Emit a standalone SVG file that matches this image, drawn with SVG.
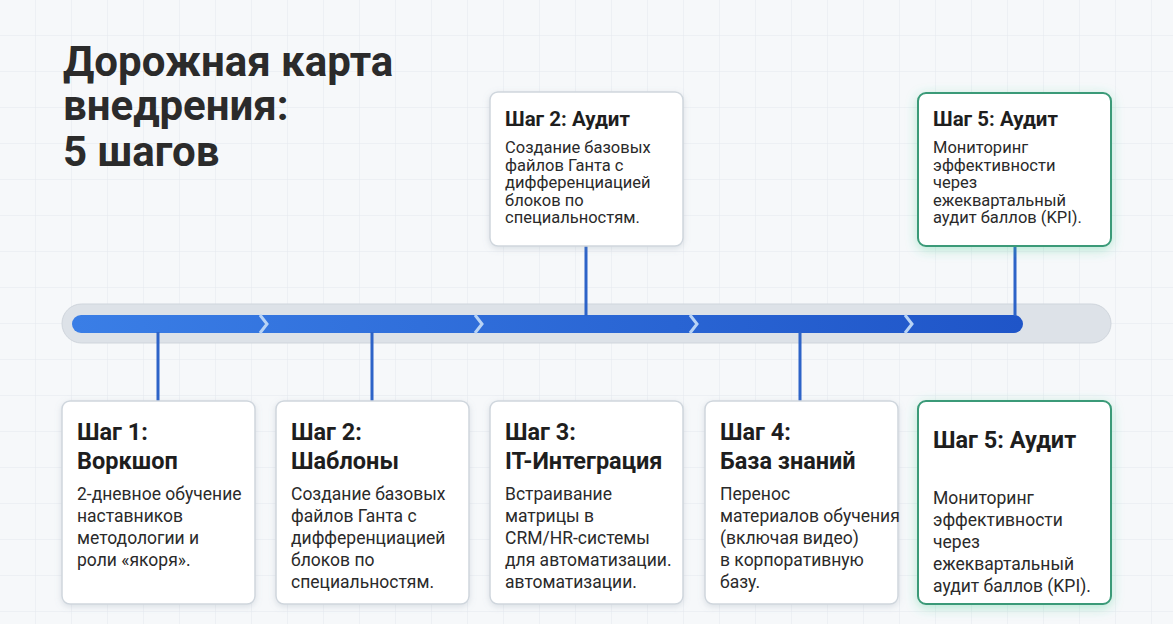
<svg xmlns="http://www.w3.org/2000/svg" width="1173" height="624" viewBox="0 0 1173 624">
<defs>
<pattern id="grid" width="36" height="36" patternUnits="userSpaceOnUse"><path d="M36 0V36H0" fill="none" stroke="#e4e9ee" stroke-width="1"/></pattern>
<linearGradient id="bl" x1="0" x2="1"><stop offset="0" stop-color="#3a7ee6"/><stop offset="1" stop-color="#1f55c8"/></linearGradient>
<filter id="sh" x="-20%" y="-20%" width="140%" height="140%"><feDropShadow dx="0" dy="2" stdDeviation="3" flood-color="#8090a0" flood-opacity="0.25"/></filter>
<filter id="gs" x="-20%" y="-20%" width="140%" height="140%"><feDropShadow dx="0" dy="3" stdDeviation="6" flood-color="#3cc98a" flood-opacity="0.35"/></filter>
</defs>
<style>
.card{fill:#fff;stroke:#cfd6dd;stroke-width:1.5;filter:url(#sh)}
.gcard{fill:#fff;stroke:#3a9a78;stroke-width:2;filter:url(#gs)}
.h{font-family:Roboto,"Liberation Sans",sans-serif;font-weight:bold;font-size:23.5px;fill:#1e1e1e}
.hs{font-family:Roboto,"Liberation Sans",sans-serif;font-weight:bold;font-size:20.5px;fill:#1e1e1e}
.t{font-family:Roboto,"Liberation Sans",sans-serif;font-size:17.5px;fill:#2a2a2a}
.ts{font-family:Roboto,"Liberation Sans",sans-serif;font-size:16.5px;fill:#2a2a2a}
.ttl{font-family:Roboto,"Liberation Sans",sans-serif;font-weight:bold;font-size:42px;fill:#2b2b2b}
.c{stroke:#2d63c8;stroke-width:3;fill:none}
.chev{stroke:#b8d3f5;stroke-width:3;fill:none}
</style>
<rect width="1173" height="624" fill="#f6f8fa"/>
<rect width="1173" height="624" fill="url(#grid)"/>
<g id="title">
<text class="ttl" x="63" y="76">Дорожная карта</text>
<text class="ttl" x="63" y="120">внедрения:</text>
<text class="ttl" x="63" y="166">5 шагов</text>
</g>
<g id="timeline">
<rect x="62" y="304" width="1049" height="39" rx="19.5" fill="#dde2e8" stroke="#cfd5dc"/>
<rect x="72" y="315" width="951" height="18" rx="9" fill="url(#bl)"/>
<path class="chev" d="M260 315l7 9-7 9M475 315l7 9-7 9M690 315l7 9-7 9M905 315l7 9-7 9"/>
</g>
<g id="connectors">
<path class="c" d="M158 332V401M372 332V401M800 332V401M586 246V316M1015 246V316"/>
</g>
<g id="top2">
<rect class="card" x="490" y="92" width="193" height="154" rx="8"/>
<text class="hs" x="505" y="126">Шаг 2: Аудит</text>
<text class="ts" x="505" y="153">Создание базовых</text>
<text class="ts" x="505" y="170.5">файлов Ганта с</text>
<text class="ts" x="505" y="188">дифференциацией</text>
<text class="ts" x="505" y="205.5">блоков по</text>
<text class="ts" x="505" y="223">специальностям.</text>
</g>
<g id="top5">
<rect class="gcard" x="918" y="93" width="193" height="153" rx="8"/>
<text class="hs" x="933" y="126">Шаг 5: Аудит</text>
<text class="ts" x="933" y="153">Мониторинг</text>
<text class="ts" x="933" y="170.5">эффективности</text>
<text class="ts" x="933" y="188">через</text>
<text class="ts" x="933" y="205.5">ежеквартальный</text>
<text class="ts" x="933" y="223">аудит баллов (KPI).</text>
</g>
<g id="step1">
<rect class="card" x="62" y="401" width="193" height="203" rx="8"/>
<text class="h" x="77" y="440">Шаг 1:</text>
<text class="h" x="77" y="469">Воркшоп</text>
<text class="t" x="77" y="500">2-дневное обучение</text>
<text class="t" x="77" y="522">наставников</text>
<text class="t" x="77" y="544">методологии и</text>
<text class="t" x="77" y="566">роли «якоря».</text>
</g>
<g id="step2">
<rect class="card" x="276" y="401" width="193" height="203" rx="8"/>
<text class="h" x="291" y="440">Шаг 2:</text>
<text class="h" x="291" y="469">Шаблоны</text>
<text class="t" x="291" y="500">Создание базовых</text>
<text class="t" x="291" y="522">файлов Ганта с</text>
<text class="t" x="291" y="544">дифференциацией</text>
<text class="t" x="291" y="566">блоков по</text>
<text class="t" x="291" y="588">специальностям.</text>
</g>
<g id="step3">
<rect class="card" x="490" y="401" width="193" height="203" rx="8"/>
<text class="h" x="505" y="440">Шаг 3:</text>
<text class="h" x="505" y="469">IT-Интеграция</text>
<text class="t" x="505" y="500">Встраивание</text>
<text class="t" x="505" y="522">матрицы в</text>
<text class="t" x="505" y="544">CRM/HR-системы</text>
<text class="t" x="505" y="566">для автоматизации.</text>
<text class="t" x="505" y="588">автоматизации.</text>
</g>
<g id="step4">
<rect class="card" x="705" y="401" width="193" height="203" rx="8"/>
<text class="h" x="720" y="440">Шаг 4:</text>
<text class="h" x="720" y="469">База знаний</text>
<text class="t" x="720" y="500">Перенос</text>
<text class="t" x="720" y="522">материалов обучения</text>
<text class="t" x="720" y="544">(включая видео)</text>
<text class="t" x="720" y="566">в корпоративную</text>
<text class="t" x="720" y="588">базу.</text>
</g>
<g id="step5">
<rect class="gcard" x="918" y="401" width="193" height="203" rx="8"/>
<text class="h" x="933" y="448">Шаг 5: Аудит</text>
<text class="t" x="933" y="504">Мониторинг</text>
<text class="t" x="933" y="526">эффективности</text>
<text class="t" x="933" y="548">через</text>
<text class="t" x="933" y="570">ежеквартальный</text>
<text class="t" x="933" y="592">аудит баллов (KPI).</text>
</g>
</svg>
